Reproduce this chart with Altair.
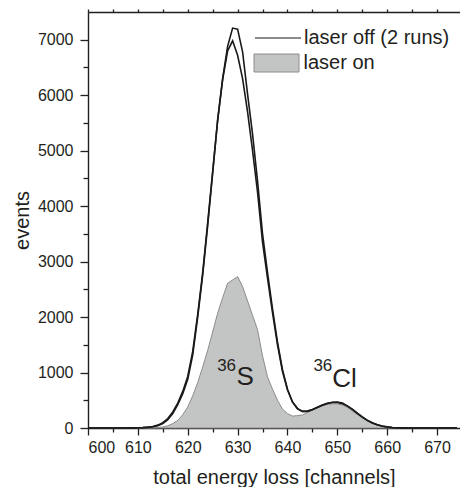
import altair as alt
import pandas as pd

# channels 600 .. 674
channels = list(range(600, 675))

off_run1 = [0, 0, 0, 0,
            0, 0, 0, 0, 0, 2, 4, 7, 12, 22, 42, 80, 150, 260, 420, 620, 880, 1320,
            2000, 2760, 3650, 4600, 5550, 6300, 6880, 7210, 7190, 6780, 6020, 5300,
            4450, 3500, 2800, 2150, 1550, 1050, 700, 470, 350, 300, 300, 330, 370,
            410, 440, 465, 470, 450, 400, 340, 270, 200, 140, 95, 60, 35, 20, 10, 5,
            2, 0, 0, 0, 0, 0,
            0, 0, 0, 0, 0, 0]
off_run2 = [0, 0, 0, 0,
            0, 0, 0, 0, 0, 2, 5, 9, 15, 28, 52, 95, 170, 290, 450, 660, 930, 1380,
            2050, 2800, 3700, 4620, 5550, 6280, 6800, 6980, 6720, 6300, 5700, 5000,
            4250, 3350, 2700, 2080, 1500, 1020, 690, 470, 350, 300, 305, 335, 375,
            415, 445, 460, 460, 440, 395, 335, 265, 195, 138, 92, 58, 33, 18, 9, 4,
            1, 0, 0, 0, 0, 0,
            0, 0, 0, 0, 0, 0]
on_vals = [0, 0, 0, 0,
           0, 0, 0, 0, 0, 0, 0, 0, 0, 3, 8, 18, 40, 80, 135, 240, 380, 580,
           820, 1100, 1400, 1730, 2070, 2350, 2610, 2670, 2730, 2550, 2290, 2030,
           1770, 1300, 920, 700, 500, 340, 260, 215, 222, 235, 280, 330, 370,
           405, 425, 435, 435, 415, 370, 305, 245, 185, 135, 92, 60, 35, 20, 10, 5,
           2, 0, 0, 0, 0, 0,
           0, 0, 0, 0, 0, 0]

assert len(channels) == len(off_run1) == len(off_run2) == len(on_vals)

x_major = [600, 610, 620, 630, 640, 650, 660, 670]
x_minor = [605, 615, 625, 635, 645, 655, 665]
x_top = [600, 605, 610, 615, 620, 625, 630, 635, 640, 645, 650, 655, 660, 665, 670]
y_major = [0, 1000, 2000, 3000, 4000, 5000, 6000, 7000]
y_minor = [500, 1500, 2500, 3500, 4500, 5500, 6500]

sup_text = ["36", "36"]
sup_x = [625.9, 645.2]
sup_y = [1028, 1028]
main_text = ["S", "Cl"]
main_x = [629.8, 649.0]
main_y = [772, 738]

n = len(channels)
off_df = pd.DataFrame({
    "channel": channels * 2,
    "events": off_run1 + off_run2,
    "run": ["run 1"] * n + ["run 2"] * n,
    "series": ["laser off (2 runs)"] * (2 * n),
})
on_df = pd.DataFrame({"channel": channels, "events": on_vals,
                      "series": ["laser on"] * n})
sup_df = pd.DataFrame({"t": sup_text, "channel": sup_x, "events": sup_y})
main_df = pd.DataFrame({"t": main_text, "channel": main_x, "events": main_y})

FONT = "Liberation Sans"
INK = "#231f20"

x_scale = alt.Scale(domain=[600, 674.6], nice=False, zero=False)
y_scale = alt.Scale(domain=[0, 7500], nice=False)

area = alt.Chart(on_df).mark_area(stroke="#8c8c8c", strokeWidth=1).encode(
    x=alt.X("channel:Q", scale=x_scale,
            axis=alt.Axis(orient="bottom", values=x_major, tickSize=7,
                          labelPadding=4, labelFontSize=16,
                          title="total energy loss [channels]", titleFontSize=20,
                          titlePadding=12)),
    y=alt.Y("events:Q", scale=y_scale,
            axis=alt.Axis(orient="left", values=y_major, tickSize=8, format="d",
                          labelPadding=7, labelFontSize=16, title="events",
                          titleFontSize=20, titlePadding=5)),
    fill=alt.Fill("series:N",
                  scale=alt.Scale(domain=["laser on"], range=["#c3c5c5"]),
                  legend=alt.Legend(orient="none", legendX=165.5, legendY=28,
                                    title=None, padding=0,
                                    symbolType="M-1,-0.4H1V0.4H-1Z",
                                    symbolSize=2025, symbolStrokeColor="#8c8c8c",
                                    symbolStrokeWidth=1, symbolOpacity=1,
                                    labelFontSize=20, labelOffset=4,
                                    labelColor=INK, labelFont=FONT)),
)

lines = alt.Chart(off_df).mark_line(strokeWidth=1.6).encode(
    x=alt.X("channel:Q", scale=x_scale,
            axis=alt.Axis(orient="bottom", values=x_minor, tickSize=4,
                          labels=False, domain=False, title=None)),
    y=alt.Y("events:Q", scale=y_scale,
            axis=alt.Axis(orient="left", values=y_minor, tickSize=5,
                          labels=False, domain=False, title=None)),
    stroke=alt.Stroke("series:N",
                      scale=alt.Scale(domain=["laser off (2 runs)"], range=["#1a1a1a"]),
                      legend=alt.Legend(orient="none", legendX=166, legendY=2,
                                        title=None, padding=0, symbolType="stroke",
                                        symbolSize=2116, symbolStrokeWidth=1.2,
                                        labelFontSize=20, labelOffset=2,
                                        labelColor=INK, labelFont=FONT)),
    detail="run:N",
)

sup = alt.Chart(sup_df).mark_text(align="left", baseline="alphabetic",
                                  fontSize=17, font=FONT, color=INK).encode(
    x=alt.X("channel:Q", scale=x_scale,
            axis=alt.Axis(orient="top", values=x_top, tickSize=3, labels=False,
                          title=None)),
    y=alt.Y("events:Q", scale=y_scale, axis=None),
    text="t:N",
)

main = alt.Chart(main_df).mark_text(align="left", baseline="alphabetic",
                                    fontSize=26, font=FONT, color=INK).encode(
    x=alt.X("channel:Q", scale=x_scale, axis=None),
    y=alt.Y("events:Q", scale=y_scale, axis=None),
    text="t:N",
)

chart = alt.layer(area, lines, sup, main).resolve_axis(
    x="independent", y="independent"
).properties(
    width=372, height=416,
    autosize=alt.AutoSizeParams(type="none"),
    padding={"left": 88, "top": 12, "right": 0, "bottom": 59},
).configure_view(stroke=None).configure_axis(
    grid=False, labelFont=FONT, titleFont=FONT, labelColor=INK, titleColor=INK,
    domainColor=INK, tickColor=INK, domainWidth=1.4, tickWidth=1.3,
    titleFontWeight="normal",
).configure_legend(labelFont=FONT)

chart.save("out.html", embed_options={"renderer": "svg", "actions": False})
